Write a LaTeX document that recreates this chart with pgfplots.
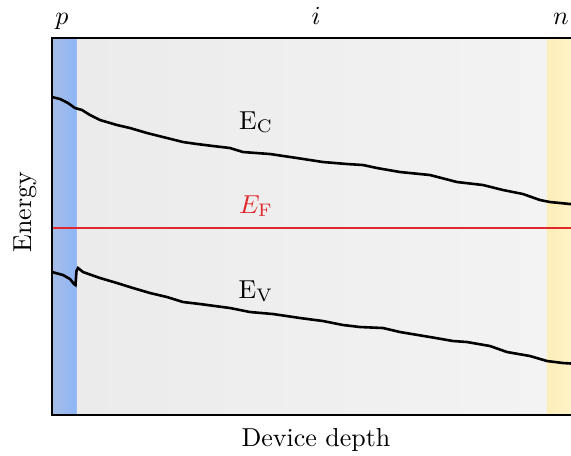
\documentclass[border=0pt]{standalone}
\usepackage{pgfplots}
\pgfplotsset{compat=1.18}
\definecolor{pbandL}{RGB}{167,188,230}
\definecolor{pbandR}{RGB}{141,182,247}
\definecolor{ibandL}{RGB}{235,235,235}
\definecolor{ibandR}{RGB}{243,243,243}
\definecolor{nbandL}{RGB}{252,238,184}
\definecolor{nbandR}{RGB}{255,245,205}
\definecolor{fermi}{RGB}{224,40,45}

% conduction band edge
\pgfplotstableread{
x y
52 358
60 356
68 352
75 347
82 345
90 340
100 335
117 330
130 327
147 322
163 318
183 313
197 311
213 309
230 307
243 303
270 301
297 297
323 293
347 291
363 290
377 287
400 283
430 280
457 273
483 270
503 265
523 261
540 255
550 253
570 251
580 251
}\ecdata

% valence band edge
\pgfplotstableread{
x y
52 183
63 180
70 176
74 171
75.5 170
76.5 184
78 187
83 183
100 177
117 172
133 167
150 162
167 158
183 153
200 151
230 147
250 143
273 141
300 137
323 134
343 130
360 128
383 127
400 123
430 118
453 114
467 113
490 109
507 103
530 99
547 94
563 92
580 91
}\evdata

\begin{document}
\begin{tikzpicture}
\useasboundingbox (0,0) rectangle (220pt,175.31pt);
\clip (0,0) rectangle (220pt,175.31pt);
\begin{axis}[
  at={(20.035pt,15.41pt)}, anchor=south west,
  scale only axis, width=203.43pt, height=145.25pt,
  xmin=52, xmax=580, ymin=40, ymax=417,
  xtick=\empty, ytick=\empty,
  axis on top, clip=false,
  axis line style={line width=0.8pt},
]
  % doping regions
  \fill[left color=pbandL, right color=pbandR] (axis cs:52,40) rectangle (axis cs:77,417);
  \fill[left color=ibandL, right color=ibandR] (axis cs:77,40) rectangle (axis cs:547,417);
  \fill[left color=nbandL, right color=nbandR] (axis cs:547,40) rectangle (axis cs:580,417);

  \addplot[black, line width=1pt, no markers] table[x=x,y=y] {\ecdata};
  \addplot[black, line width=1pt, no markers] table[x=x,y=y] {\evdata};
  \addplot[fermi, line width=0.75pt, no markers] coordinates {(52,227) (580,227)};

  \node[anchor=base] at (axis cs:256,326) {$\mathrm{E_C}$};
  \node[anchor=base, text=fermi] at (axis cs:256,242) {$E_\mathrm{F}$};
  \node[anchor=base] at (axis cs:256,157) {$\mathrm{E_V}$};

  \node[anchor=base] at (axis cs:62,431) {$p$};
  \node[anchor=base] at (axis cs:316,431) {$i$};
  \node[anchor=base] at (axis cs:561,431) {$n$};

  \node[anchor=base] at (axis cs:316,9) {Device depth};
  \node[rotate=90] at (axis cs:25,243) {Energy};
\end{axis}
\end{tikzpicture}
\end{document}
